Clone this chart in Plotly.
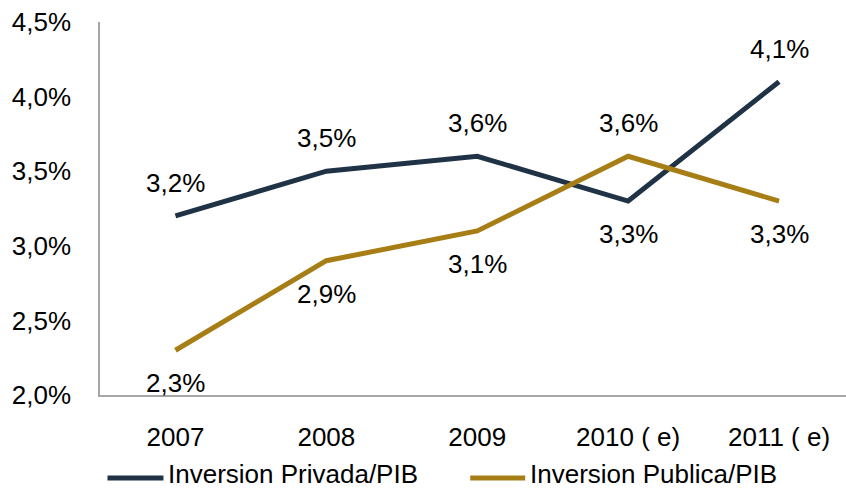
import plotly.graph_objects as go

categories = ["2007", "2008", "2009", "2010 ( e)", "2011 ( e)"]
privada = [3.2, 3.5, 3.6, 3.3, 4.1]
publica = [2.3, 2.9, 3.1, 3.6, 3.3]
privada_label_pos = [1, 1, 1, -1, 1]   # 1 above, -1 below
publica_label_pos = [-1, -1, -1, 1, -1]
ytick_vals = [2.0, 2.5, 3.0, 3.5, 4.0, 4.5]
ytick_text = ["2,0%", "2,5%", "3,0%", "3,5%", "4,0%", "4,5%"]
series_names = ["Inversion Privada/PIB", "Inversion Publica/PIB"]
colors = ["#1F3246", "#A77D16"]

FONT = "Liberation Sans, Arial, sans-serif"
fs = 26

fig = go.Figure()
for vals, name, col in zip([privada, publica], series_names, colors):
    fig.add_trace(go.Scatter(x=list(range(len(categories))), y=vals, mode="lines", name=name,
                             line=dict(color=col, width=5), cliponaxis=False,
                             showlegend=False))

def fmt(v):
    return f"{v:.1f}".replace(".", ",") + "%"

annotations = []
for vals, pos in [(privada, privada_label_pos), (publica, publica_label_pos)]:
    for i, (v, p) in enumerate(zip(vals, pos)):
        annotations.append(dict(x=i, y=v, xref="x", yref="y", text=fmt(v),
                                showarrow=False, yshift=33 * p,
                                font=dict(family=FONT, size=fs, color="#000000")))

# manual legend
plot_left, plot_right, plot_top, plot_bottom = 99.5, 846.0, 22.0, 395.0
W = plot_right - plot_left
H = plot_bottom - plot_top
def px_x(p):
    return (p - plot_left) / W
def px_y(q):
    return (plot_bottom - q) / H

shapes = []
for (x0, x1, tx), name, col in zip([(107, 163, 166), (470, 525, 528)], series_names, colors):
    shapes.append(dict(type="line", xref="paper", yref="paper",
                       x0=px_x(x0), x1=px_x(x1), y0=px_y(478), y1=px_y(478),
                       line=dict(color=col, width=5)))
    annotations.append(dict(x=px_x(tx), y=px_y(474), xref="paper", yref="paper",
                            text=name, showarrow=False, xanchor="left", yanchor="middle",
                            font=dict(family=FONT, size=fs, color="#000000")))

fig.update_layout(
    width=846, height=488,
    margin=dict(l=plot_left, r=846 - plot_right, t=plot_top, b=488 - plot_bottom,
                autoexpand=False),
    plot_bgcolor="white", paper_bgcolor="white",
    font=dict(family=FONT, size=fs, color="#000000"),
    annotations=annotations, shapes=shapes,
    xaxis=dict(range=[-0.5, (plot_right - 175) / 151],
               tickvals=list(range(len(categories))), ticktext=categories,
               showgrid=False, zeroline=False, showline=True,
               linecolor="#A6A6A6", linewidth=1.5, ticks="",
               ticklabelstandoff=18, tickfont=dict(family=FONT, size=fs)),
    yaxis=dict(range=[2.0, 4.5], tickvals=ytick_vals, ticktext=ytick_text,
               showgrid=False, zeroline=False, showline=True,
               linecolor="#A6A6A6", linewidth=1.5, ticks="",
               ticklabelstandoff=22, tickfont=dict(family=FONT, size=fs)),
)

fig.write_html("out.html", config={"displayModeBar": False},
               post_script="document.body.style.margin='0';")
